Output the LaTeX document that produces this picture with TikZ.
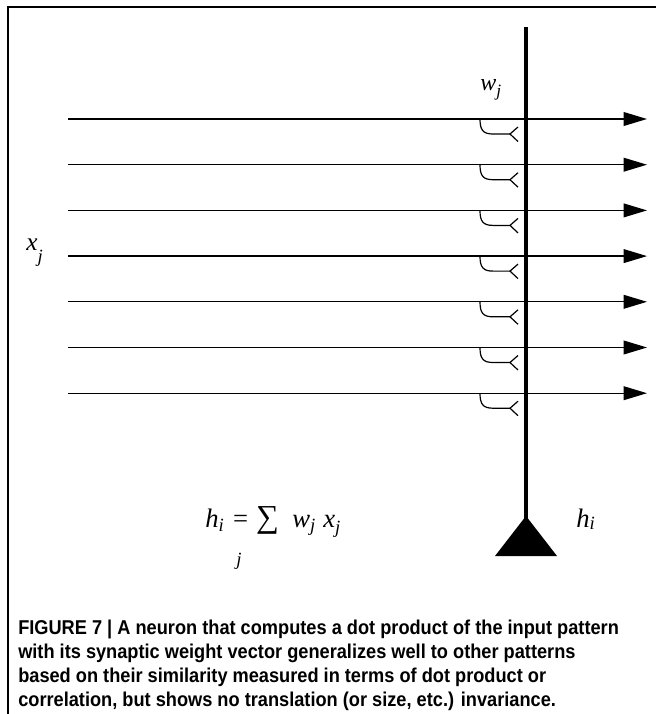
\documentclass[tikz,border=0pt]{standalone}
\usepackage{fontspec}
\setmainfont{Liberation Serif}
\newfontfamily\capfont{Liberation Sans}[FakeStretch=0.91]
\usetikzlibrary{arrows.meta}
\newcommand\itl[2]{{\fontsize{#1}{#1}\selectfont\itshape #2}}
\begin{document}
\begin{tikzpicture}[x=0.75pt,y=-0.75pt,
  frame/.style={line width=1.1pt},
  axon/.style={line width=3.3pt},
  input/.style={line width=1pt,-{Triangle[length=17.5pt,width=10.3pt]}},
  hook/.style={line width=0.9pt},
  lbl/.style={inner sep=0pt,anchor=base west},
  caption/.style={inner sep=0pt,anchor=base west,font=\capfont\bfseries\fontsize{15}{18}\selectfont}]
\useasboundingbox (0,0) rectangle (656,714);
\fill[white] (0,0) rectangle (656,714);
% frame
\coordinate (ftr) at (656,7);
\coordinate (ftl) at (8,7);
\coordinate (fbl) at (8,714);
\draw[frame] (ftr) -- (ftl) -- (fbl);
% axon and soma
\coordinate (atop) at (526,27);
\coordinate (abot) at (526,522);
\draw[axon] (atop) -- (abot);
\fill (526,516) -- (557,556) -- (495,556) -- cycle;
% inputs and synapses
\foreach \k in {0,...,6}{
  \pgfmathsetmacro{\yy}{119+45.7*\k}
  \coordinate (in\k) at (68,\yy);
  \coordinate (out\k) at (647,\yy);
  \draw[input] (in\k) -- (out\k);
  \draw[hook] (480,\yy) .. controls (480,\yy+11) and (483,\yy+15) .. (493,\yy+15) -- (510,\yy+15);
  \draw[hook] (518,\yy+8) -- (510,\yy+15) -- (518,\yy+22.5);
}
% labels
\node[lbl] (wj) at (480,90) {\itl{18}{w}\raisebox{-5pt}{\itl{13}{j}}};
\node[lbl] (xj) at (26,250) {\itl{19}{x}\raisebox{-9pt}{\itl{14}{j}}};
\node[lbl] (hi) at (576,527) {\itl{20}{h}\raisebox{-2pt}{\itl{14}{i}}};
\node[lbl] (hsum) at (205,527) {\itl{20}{h}\raisebox{-3pt}{\itl{14}{i}}\hspace{7pt}{\fontsize{20}{20}\selectfont =}\hspace{6pt}{\fontsize{24}{24}\selectfont ∑}\hspace{10pt}\itl{20}{w}\raisebox{-3pt}{\itl{14}{j}}\hspace{6pt}\itl{20}{x}\raisebox{-5pt}{\itl{14}{j}}};
\node[lbl] (sj) at (236,565) {\itl{14}{j}};
% caption
\node[caption] (c1) at (18,634) {FIGURE 7 | A neuron that computes a dot product of the input pattern};
\node[caption] (c2) at (18,658) {with its synaptic weight vector generalizes well to other patterns};
\node[caption] (c3) at (18,682) {based on their similarity measured in terms of dot product or};
\node[caption] (c4) at (18,706) {correlation, but shows no translation (or size, etc.) invariance.};
\end{tikzpicture}
\end{document}
